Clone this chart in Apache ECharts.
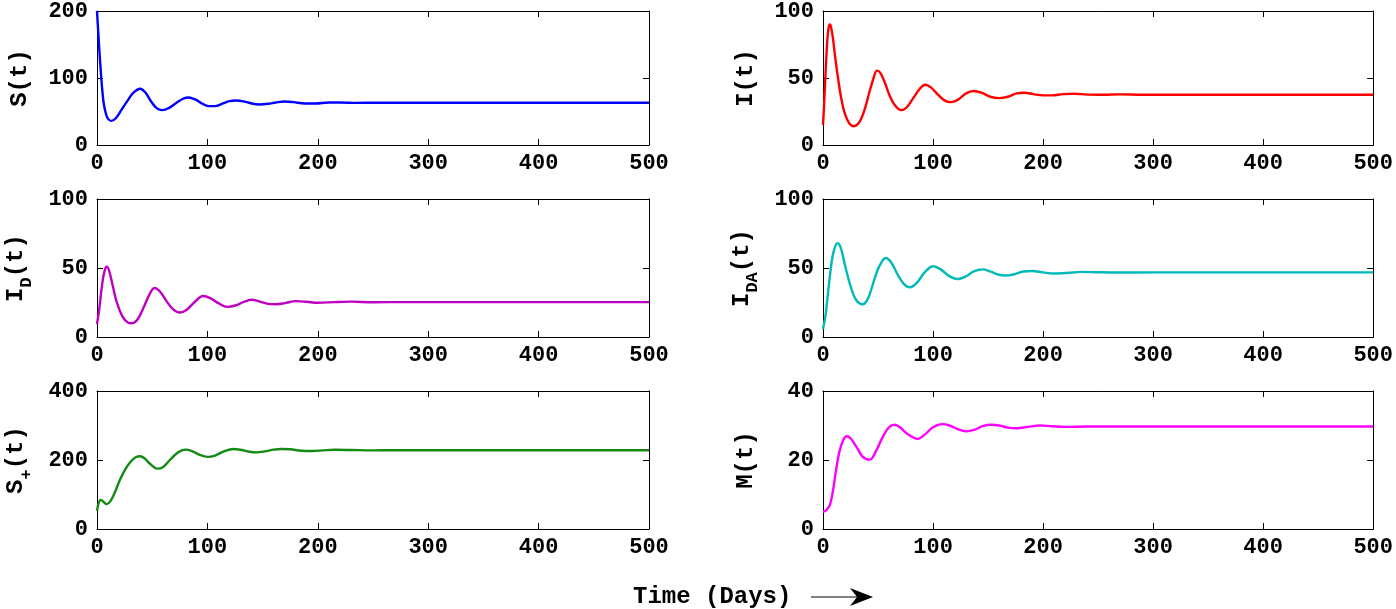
<!DOCTYPE html>
<html>
<head>
<meta charset="utf-8">
<script src="https://cdn.jsdelivr.net/npm/echarts@6/dist/echarts.min.js"></script>
<style>
  html, body { margin: 0; padding: 0; background: #fff; }
  #chart { width: 1396px; height: 609px; }
</style>
</head>
<body>
<div id="chart"></div>
<script>
// time axis ticks (days)
const timeTicks = [0, 100, 200, 300, 400, 500];

// [t, value]
const sData = [[0,200],[1,172],[2,145],[3,120],[4,97],[5,78],[6,63],[8,47],[10,39],[13,36],[17,40],[22,52],[28,67],[33,78],[39,84],[44,78],[49,65],[54,55],[59,52],[65,55],[72,63],[78,69],[83,71],[89,68],[95,62],[101,58],[107,58],[114,62],[120,65.5],[126,66.5],[133,65],[140,62],[147,60.5],[155,61.5],[162,63.5],[170,65],[178,64],[188,62],[198,62],[210,63.5],[220,63.5],[235,62.8],[250,63.2],[270,63],[300,63],[400,63],[500,63]];
const iData = [[0,15],[1,30],[2,48],[3,65],[4,79],[5,87],[6,90],[7,89],[9,80],[11,66],[14,48],[17,33],[20,23],[24,16],[28,14],[33,17],[38,27],[43,42],[46,50],[49,55.5],[52,54],[56,47],[60,38],[65,30],[71,26],[76,28],[82,35],[88,42],[93,45],[98,43],[104,38],[110,33.5],[116,32],[122,33.5],[130,38.5],[137,40.3],[144,39],[152,36],[160,35],[168,36],[176,38.5],[183,39],[191,38],[200,37],[208,37],[218,38],[228,38.3],[240,37.6],[255,37.5],[270,37.8],[290,37.5],[500,37.5]];
const idData = [[0,9.4],[2,20],[4,34],[6,45],[8,50.5],[9,51],[11,48],[14,38],[18,25],[23,15],[28,10.5],[32,10],[37,13],[42,21],[47,30],[52,35.5],[57,33],[63,26],[69,20],[75,17.7],[81,19.5],[88,25],[96,29.7],[103,28],[110,24.5],[118,21.8],[126,23],[133,25.5],[140,27],[148,25.5],[155,24],[162,23.7],[170,24.5],[180,26],[190,25.5],[200,24.8],[215,25.3],[230,25.6],[250,25.2],[280,25.3],[500,25.3]];
const idaData = [[0,5.8],[2,14],[3.3,22.5],[5,35],[7.8,54],[10,63],[13,68],[16,65],[20,52],[25,37],[30,27],[36,23.7],[41,28],[46,40],[51,51],[57,57.3],[62,54],[68,45],[74,38],[79,36],[85,39],[92,46.5],[100,51.3],[107,49],[114,44.5],[122,42],[130,44],[137,47.5],[145,49],[152,47.5],[159,45.3],[166,44.6],[174,45.5],[182,47.5],[190,47.8],[200,46.8],[210,46],[222,46.4],[235,47.2],[250,46.9],[270,46.7],[300,46.8],[500,46.8]];
const spData = [[0,53],[1.5,75],[3.3,84.5],[5.5,80],[8.8,72],[12,80],[16,105],[21,144],[26,175],[31,197],[35,208],[39,211],[43,205],[48,189],[54.6,175],[60,180],[66,200],[73,221],[80,230],[86,226],[93,215],[100,209],[107,213],[115,225],[123.5,232],[131,229],[138,224],[144.6,222],[152,225],[160,230],[167,232],[175,231],[185,227],[195,226],[205,228],[215,229.5],[230,229],[250,228],[270,228.5],[300,228.3],[500,228.3]];
const mData = [[0,5],[3,5.5],[6.3,7],[9,11],[12.4,18.2],[15,22.5],[18,25.5],[21.4,26.9],[25,26.3],[30,24],[36,21],[42.6,20.1],[48,22.5],[54,26.5],[60,29.5],[65,30.2],[70,29.5],[77,27.5],[86,26.1],[93,27.5],[100,29.5],[108.4,30.4],[115,30],[122,29],[130,28.3],[138,28.8],[145,29.8],[152.8,30.2],[160,30],[168,29.4],[176,29.2],[186,29.6],[197,30],[208,29.8],[220,29.6],[240,29.7],[270,29.7],[500,29.7]];

const yMax = [200, 100, 100, 100, 400, 40];
const yNames = ['{m|S(t)}', '{m|I(t)}', '{m|I}{s|D}{m|(t)}', '{m|I}{s|DA}{m|(t)}', '{m|S}{s|+}{m|(t)}', '{m|M(t)}'];

const FONT = '"Liberation Mono", "DejaVu Sans Mono", monospace';
const panels = [
  { data: sData, color: '#0000ff' },
  { data: iData, color: '#ff0000' },
  { data: idData, color: '#c000c0' },
  { data: idaData, color: '#00baba' },
  { data: spData, color: '#138a13' },
  { data: mData, color: '#ff00ff' }
];

const lefts = [97, 823];
const tops = [7, 199, 391];
const gridW = 552, gridH = 138;

const grid = [], xAxis = [], yAxis = [], series = [];
const lbl = { fontFamily: FONT, fontWeight: 'bold', fontSize: 22, color: '#000' };

panels.forEach((p, i) => {
  const col = i % 2, row = Math.floor(i / 2);
  grid.push({ left: lefts[col], top: tops[row], width: gridW, height: gridH, show: false });
  const common = {
    gridIndex: i, type: 'value', min: 0,
    axisLine: { show: true, onZero: false, lineStyle: { color: '#000', width: 1 } },
    axisTick: { show: true, inside: true, length: 6, lineStyle: { color: '#000' } },
    splitLine: { show: false }
  };
  xAxis.push(Object.assign({}, common, {
    position: 'bottom', max: 500, interval: 100,
    axisLabel: Object.assign({ margin: 7 }, lbl)
  }));
  xAxis.push(Object.assign({}, common, {
    position: 'top', max: 500, interval: 100, axisLabel: { show: false }
  }));
  yAxis.push(Object.assign({}, common, {
    position: 'left', max: yMax[i], interval: yMax[i] / 2,
    axisLabel: Object.assign({ margin: 9 }, lbl),
    name: yNames[i], nameLocation: 'middle', nameGap: 62, nameRotate: 90,
    nameTextStyle: {
      rich: {
        m: { fontFamily: FONT, fontWeight: 'bold', fontSize: 24, color: '#000', lineHeight: 30, verticalAlign: 'middle' },
        s: { fontFamily: FONT, fontWeight: 'bold', fontSize: 17, color: '#000', lineHeight: 38, verticalAlign: 'bottom' }
      }
    }
  }));
  yAxis.push(Object.assign({}, common, {
    position: 'right', max: yMax[i], interval: yMax[i] / 2, axisLabel: { show: false }
  }));
  series.push({
    type: 'line', xAxisIndex: 2 * i, yAxisIndex: 2 * i,
    data: p.data, smooth: 0.35, showSymbol: false,
    lineStyle: { color: p.color, width: 2.4 }, z: 1
  });
});

const chart = echarts.init(document.getElementById('chart'));
chart.setOption({
  animation: false,
  grid, xAxis, yAxis, series,
  graphic: [
    { type: 'text', left: 633, top: 585, style: { text: 'Time (Days)', font: 'bold 24px ' + FONT, fill: '#000' } },
    { type: 'line', shape: { x1: 811, y1: 597, x2: 860, y2: 597 }, style: { stroke: '#000', lineWidth: 1 } },
    { type: 'polygon', shape: { points: [[873, 597], [850, 588], [857, 597], [850, 606]] }, style: { fill: '#000' } }
  ]
});
</script>
</body>
</html>
